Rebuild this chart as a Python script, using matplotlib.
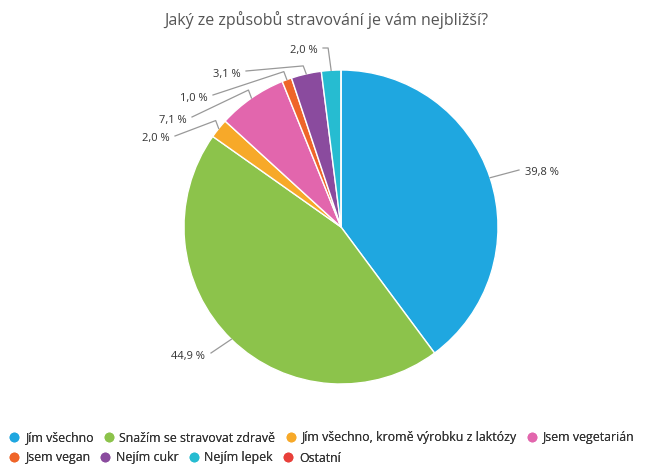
import numpy as np
import matplotlib
matplotlib.use('Agg')
import matplotlib.pyplot as plt
from matplotlib.lines import Line2D

plt.rcParams['font.family'] = ['Open Sans', 'DejaVu Sans']

# data
categories = ['Jím všechno', 'Snažím se stravovat zdravě',
              'Jím všechno, kromě výrobku z laktózy', 'Jsem vegetarián',
              'Jsem vegan', 'Nejím cukr', 'Nejím lepek', 'Ostatní']
values = [39.8, 44.9, 2.0, 7.1, 1.0, 3.1, 2.0, 0.0]
colors = ['#1fa7e0', '#8cc34b', '#f7a929', '#e266ad',
          '#ef6529', '#8a4b9e', '#26bcd1', '#e8403a']
title = 'Jaký ze způsobů stravování je vám nejbližší?'

W, H = 651, 468
cx, cy, r = 341, H - 227, 157

fig = plt.figure(figsize=(W / 100, H / 100), dpi=100)
ax = fig.add_axes([0, 0, 1, 1])

wedges, _ = ax.pie(values, colors=colors, startangle=90, counterclock=False,
                   center=(cx, cy), radius=r, normalize=True,
                   wedgeprops=dict(edgecolor='white', linewidth=1))

ax.set_xlim(0, W)
ax.set_ylim(0, H)
ax.set_aspect('equal')
ax.axis('off')

fig.text(0.502, 1 - 20 / H, title, ha='center', va='center',
         fontsize=11.5, color='#555555')

# label placement (pixel positions, y from top); None = no label
label_pos = [(525, 173, 'left'), (205, 356, 'right'), (170, 139, 'right'),
             (187, 120, 'right'), (208, 98, 'right'), (241, 74, 'right'),
             (318, 51, 'right'), None]

for w, v, pos in zip(wedges, values, label_pos):
    if pos is None or v == 0:
        continue
    ang = np.deg2rad((w.theta1 + w.theta2) / 2)
    ex, ey = cx + r * np.cos(ang), cy + r * np.sin(ang)
    lx, ly, ha = pos
    ly = H - ly
    txt = f'{v:.1f} %'.replace('.', ',')
    ax.text(lx, ly, txt, ha=ha, va='center', fontsize=8, color='#333333')
    if v > 20:
        sx = lx - 6 if ha == 'left' else lx + 6
        ax.plot([ex, sx], [ey, ly + 3], color='#999999', lw=0.9)
    else:
        sx = lx + 5
        elbow_y = max(ly + 3, ey + 8)
        ax.plot([sx, ex - 3, ex], [ly + 3, elbow_y, ey],
                color='#999999', lw=0.9, solid_joinstyle='round')

handles = [Line2D([], [], marker='o', ls='', markersize=6,
                  markerfacecolor=c, markeredgecolor=c) for c in colors]
rows = [range(0, 4), range(4, 8)]
for i, row in enumerate(rows):
    leg = fig.legend([handles[k] for k in row], [categories[k] for k in row],
                     loc='center left', bbox_to_anchor=(8 / W, 1 - (438 + 20 * i) / H),
                     ncol=len(row), frameon=False, fontsize=8.9,
                     handletextpad=0.35, columnspacing=0.75, handlelength=1.0,
                     borderaxespad=0, borderpad=0)
    for t in leg.get_texts():
        t.set_color('#333333')
    fig.add_artist(leg)

fig.savefig('out.png', dpi=100, facecolor='white')
